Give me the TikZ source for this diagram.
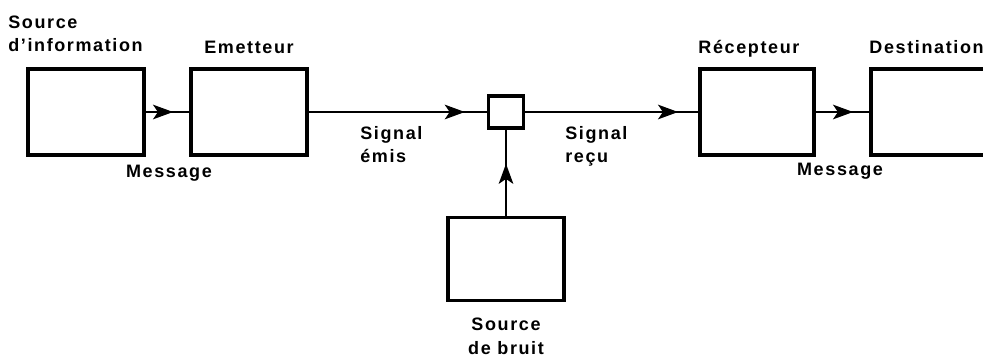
\documentclass[tikz,border=0pt]{standalone}
\usepackage{fontspec}
\setmainfont{Liberation Sans}[LetterSpace=9]
\usetikzlibrary{arrows.meta, decorations.markings, positioning}

\begin{document}
\begin{tikzpicture}[x=0.025cm, y=0.025cm,
    boite/.style={draw, line width=2.6pt, minimum width=2.9cm, minimum height=2.15cm, inner sep=0pt},
    texte/.style={font=\fontsize{12.8}{16.5}\selectfont\bfseries, inner sep=0pt, align=#1},
    texte/.default=center,
    fleche/.style={line width=2pt, postaction={decorate, decoration={markings,
        mark=at position #1 with {\arrow{Stealth[length=0.5cm, width=0.36cm, inset=0.12cm]}}}}},
    fleche/.default=-0.4cm]
    % Cadre (taille de l'image)
    \useasboundingbox (0,0) rectangle (983,358);

    % Boites
    \node[boite] (source) at (86, 246) {};
    \node[boite] (emetteur) at (249, 246) {};
    \node[boite, minimum width=0.87cm, minimum height=0.8cm, line width=2.4pt] (canal) at (506, 246) {};
    \node[boite, minimum width=2.85cm] (recepteur) at (757, 246) {};
    \node[boite] (destination) at (929, 246) {};
    \node[boite, minimum height=2.08cm] (bruit) at (506, 99) {};

    % Fleches
    \draw[fleche] (source) -- (emetteur);
    \draw[fleche=-0.55cm] (emetteur) -- (canal);
    \draw[fleche=-0.5cm] (canal) -- (recepteur);
    \draw[fleche] (recepteur) -- (destination);
    \draw[fleche=-0.85cm] (bruit) -- (canal);

    % Etiquettes des boites
    \node[texte=left, anchor=south west] (lsource) at (8, 306) {Source\\d'information};
    \node[texte, above=0.35cm of emetteur, anchor=base] (lemetteur) {Emetteur};
    \node[texte, above=0.35cm of recepteur.north west, anchor=base west] (lrecepteur) {Récepteur};
    \node[texte, above=0.35cm of destination.north west, anchor=base west] (ldestination) {Destination};
    \node[texte, below=0.39cm of bruit] (lbruit) {Source\\de bruit};

    % Etiquettes des fleches
    \node[texte, anchor=base] (lmessage1) at (169, 181) {Message};
    \node[texte=left, anchor=north west] (lemis) at (360, 232) {Signal\\émis};
    \node[texte=left, anchor=north west] (lrecu) at (565, 232) {Signal\\reçu};
    \node[texte, anchor=base] (lmessage2) at (840, 183) {Message};
\end{tikzpicture}
\end{document}
